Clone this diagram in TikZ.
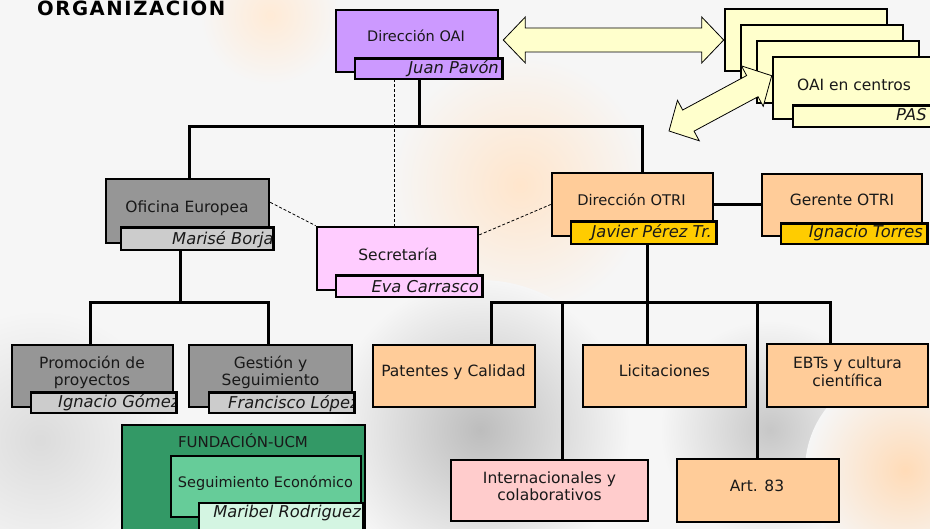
\documentclass[tikz,border=0pt]{standalone}
\usepackage{fontspec}
\setmainfont{DejaVu Sans}
\usetikzlibrary{calc}
\pgfdeclarelayer{bg}
\pgfsetlayers{bg,main}
\definecolor{bgc}{HTML}{F6F6F6}
\definecolor{oaiP}{HTML}{CC99FF}
\definecolor{grayM}{HTML}{969696}
\definecolor{grayL}{HTML}{CCCCCC}
\definecolor{pinkS}{HTML}{FFCCFF}
\definecolor{peach}{HTML}{FFCC99}
\definecolor{gold}{HTML}{FFCC00}
\definecolor{ylw}{HTML}{FFFFCC}
\definecolor{fundD}{HTML}{339966}
\definecolor{fundM}{HTML}{66CC99}
\definecolor{fundL}{HTML}{D4F5E2}
\definecolor{pinkI}{HTML}{FFCCCC}
\newcommand\fsz[1]{\fontsize{#1}{16.5}\selectfont}
\newcommand\twol[2]{\begin{tabular}[t]{@{}c@{}}#1\\#2\end{tabular}}
% main box: name x1 y1 x2 y2 options
\newcommand\bx[6]{\node[box,#6,minimum width={(#4)-(#2)},minimum height={(#5)-(#3)}] (#1) at ({((#2)+(#4))/2},{((#3)+(#5))/2}) {};}
% sub box with clipped text: name x1 y1 x2 y2 fill textopts pos text
\newcommand\sbx[9]{%
  \node[fill=#6,inner sep=0pt,minimum width={(#4)-(#2)},minimum height={(#5)-(#3)}] (#1) at ({((#2)+(#4))/2},{((#3)+(#5))/2}) {};
  \begin{scope}
    \clip ({(#2)+1.3},{(#3)+1.3}) rectangle ({(#4)-1.3},{(#5)-1.3});
    \node[nm,#7] (#1t) at (#8) {#9};
  \end{scope}
  \draw[line width=2.6pt] (#1.north west) rectangle (#1.south east);}
\newcommand\dblarrow[2]{%
  \coordinate (H1) at ($(#1)!22pt!(#2)$);
  \coordinate (H2) at ($(#2)!22pt!(#1)$);
  \filldraw[arr] (#1) -- ($(H1)!23pt!90:(#2)$) -- ($(H1)!12pt!90:(#2)$)
    -- ($(H2)!12pt!-90:(#1)$) -- ($(H2)!23pt!-90:(#1)$) -- (#2)
    -- ($(H2)!23pt!90:(#1)$) -- ($(H2)!12pt!90:(#1)$)
    -- ($(H1)!12pt!-90:(#2)$) -- ($(H1)!23pt!-90:(#2)$) -- cycle;}
\begin{document}
\begin{tikzpicture}[x=1pt,y=-1pt,
  box/.style={draw=black,line width=2.6pt,inner sep=0pt,rectangle},
  lbl/.style={inner sep=0pt,text=black!90,font=\fsz{15.5}},
  nm/.style={inner sep=0pt,text=black!90,font=\fsz{16.3}\itshape},
  conn/.style={line width=3pt,line cap=rect},
  dsh/.style={line width=0.8pt,dash pattern=on 3pt off 2pt},
  arr/.style={fill=ylw,draw=black,line width=0.8pt,line join=miter}]
\useasboundingbox (0,0) rectangle (930,529);
\clip (0,0) rectangle (930,529);
\begin{pgfonlayer}{bg}
  \fill[bgc] (0,0) rectangle (930,529);
  \shade[inner color=orange!20, outer color=bgc] (520,185) circle (130);
  \shade[inner color=black!26, outer color=bgc] (480,430) circle (150);
  \shade[inner color=black!22, outer color=bgc] (770,430) circle (110);
  \shade[inner color=orange!28, outer color=bgc] (905,470) circle (100);
  \shade[inner color=black!14, outer color=bgc] (40,440) circle (130);
  \shade[inner color=orange!16, outer color=bgc] (270,15) circle (70);
\end{pgfonlayer}

\node[anchor=base west,inner sep=0pt] (title) at (37,16)
  {\fontsize{19.6}{20}\selectfont\bfseries\addfontfeature{LetterSpace=8}ORGANIZACION};

% Direccion OAI
\bx{oai}{336}{10}{498}{72}{fill=oaiP}
\node[lbl,font=\fsz{14.5},anchor=base] (oaiT) at (416,42) {Dirección OAI};
\sbx{oaisub}{355}{59}{502}{79}{oaiP}{anchor=base east}{499,74}{Juan Pavón}

% OAI en centros
\bx{b1}{725}{9}{887}{71}{fill=ylw}
\bx{b2}{741}{25}{903}{87}{fill=ylw}
\bx{b3}{757}{41}{919}{103}{fill=ylw}
\coordinate (dlow) at (669,131);
\coordinate (dup) at ($(b3.north west)+(16,36)$);
\dblarrow{dlow}{dup}
\bx{b4}{773}{57}{935}{119}{fill=ylw}
\node[lbl,anchor=base] (b4T) at (854,91) {OAI en centros};
\sbx{cenSub}{793}{106}{950}{127}{ylw}{anchor=base west}{896,121}{PAS}
\coordinate (hA) at ($(oai.east)+(4,-1)$);
\coordinate (hB) at (b1.west);
\dblarrow{hA}{hB}

% Oficina Europea
\bx{oe}{106}{179}{269}{243}{fill=grayM}
\node[lbl,anchor=base] (oeT) at (187,213) {Oficina Europea};
\sbx{oesub}{121}{228}{273}{250}{grayL}{anchor=base west}{172,245}{Marisé Borja}

% Secretaria
\bx{sec}{317}{227}{478}{290}{fill=pinkS}
\node[lbl,anchor=base] (secT) at (398,261) {Secretaría};
\sbx{secsub}{336}{276}{482}{297}{pinkS}{anchor=base east}{479,293}{Eva Carrasco}

% Direccion OTRI
\bx{otri}{552}{173}{713}{236}{fill=peach}
\node[lbl,font=\fsz{14.7},anchor=base] (otriT) at (631.5,206) {Dirección OTRI};
\sbx{otrisub}{571}{222}{716}{244}{gold}{anchor=base east}{712,238}{Javier Pérez Tr.}

% Gerente OTRI
\bx{ger}{762}{174}{922}{236}{fill=peach}
\node[lbl,anchor=base] (gerT) at (842,206) {Gerente OTRI};
\sbx{gersub}{781}{224}{927}{244}{gold}{anchor=base east}{923,238}{Ignacio Torres}

% Promocion / Gestion
\bx{prom}{12}{345}{173}{407}{fill=grayM}
\node[lbl,anchor=base] (promT) at (92,369) {\twol{Promoción de}{proyectos}};
\sbx{promsub}{31}{393}{176}{413}{grayL}{anchor=base west}{58,408}{Ignacio Gómez}
\bx{gest}{189}{345}{352}{407}{fill=grayM}
\node[lbl,anchor=base] (gestT) at (270.5,369) {\twol{Gestión y}{Seguimiento}};
\sbx{gestsub}{209}{393}{354}{413}{grayL}{anchor=base west}{228,409}{Francisco López}

% Fundacion
\bx{fund}{122}{425}{365}{545}{fill=fundD}
\node[lbl,font=\fsz{15},anchor=base] (fundT) at (243,448) {FUNDACIÓN-UCM};
\bx{seg}{171}{456}{361}{517}{fill=fundM}
\node[lbl,font=\fsz{14.5},anchor=base] (segT) at (265.5,487) {Seguimiento Económico};
\sbx{segsub}{199}{503}{363}{545}{fundL}{anchor=base east}{361,517}{Maribel Rodriguez}

% OTRI units
\bx{pat}{373}{345}{535}{407}{fill=peach}
\node[lbl,anchor=base] (patT) at (453.5,377) {Patentes y Calidad};
\bx{lic}{583}{345}{746}{407}{fill=peach}
\node[lbl,anchor=base] (licT) at (664.5,377) {Licitaciones};
\bx{ebt}{767}{344}{928}{407}{fill=peach}
\node[lbl,anchor=base] (ebtT) at (847.5,369) {\twol{EBTs y cultura}{científica}};
\bx{int}{451}{460}{648}{521}{fill=pinkI}
\node[lbl,anchor=base] (intT) at (549.5,484) {\twol{Internacionales y}{colaborativos}};
\bx{art}{677}{459}{839}{522}{fill=peach}
\node[lbl,anchor=base] (artT) at (757,492) {Art. 83};

% junction coordinates
\coordinate (jOAI) at (419,127);
\coordinate (jL) at (189,127);
\coordinate (jR) at (642,127);
\coordinate (jOE) at (180,303);
\coordinate (jP) at (90,303);
\coordinate (jG) at (268,303);
\coordinate (jO) at (647.5,303);
\coordinate (jPat) at (491,303);
\coordinate (jInt) at (562,303);
\coordinate (jArt) at (757,303);
\coordinate (jEBT) at (830,303);
\coordinate (dOAI) at (394,0);

\begin{pgfonlayer}{bg}
  \draw[conn] (oaisub.south -| jOAI) -- (jOAI);
  \draw[conn,line join=miter] (jL |- oe.north) -- (jL) -- (jR) -- (jR |- otri.north);
  \draw[conn] (oesub.south -| jOE) -- (jOE);
  \draw[conn,line join=miter] (jP |- prom.north) -- (jP) -- (jG) -- (jG |- gest.north);
  \draw[conn] (otrisub.south -| jO) -- (jO |- lic.north);
  \draw[conn,line join=miter] (jPat |- pat.north) -- (jPat) -- (jEBT) -- (jEBT |- ebt.north);
  \draw[conn] (jInt) -- (jInt |- int.north);
  \draw[conn] (jArt) -- (jArt |- art.north);
  \draw[conn] (otri.east) -- (otri.east -| ger.west);
  \draw[dsh] (oaisub.south -| dOAI) -- (sec.north -| dOAI);
  \draw[dsh] ($(oe.north east)!0.37!(oe.south east)$) -- (sec.north west);
  \draw[dsh] ($(sec.north east)!0.14!(sec.south east)$) -- (otri.west);
\end{pgfonlayer}
\end{tikzpicture}
\end{document}
